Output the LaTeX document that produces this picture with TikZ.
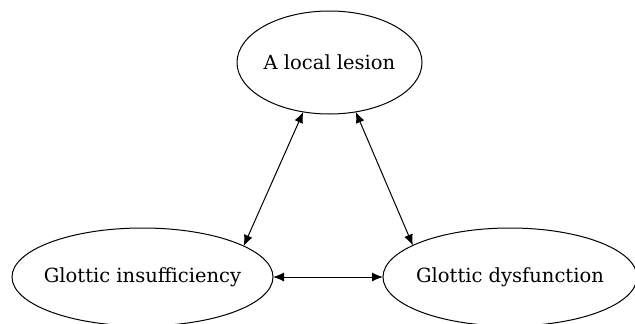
\documentclass[tikz,border=0pt]{standalone}
\usepackage{fontspec}
\setmainfont{DejaVu Serif}
\usepackage{tikz}
\usetikzlibrary{arrows.meta,shapes.geometric}

\begin{document}
\begin{tikzpicture}[x=1pt, y=-1pt,
	cause/.style={draw, ellipse, line width=1pt, inner xsep=-8pt, inner ysep=0pt, outer sep=0pt, font=\fontsize{19.5}{23}\selectfont},
	link/.style={line width=1pt, {Latex[length=11pt,width=9pt]}-{Latex[length=11pt,width=9pt]}}]
	\useasboundingbox (0,0) rectangle (635,324);
	\node[cause, minimum width=185pt, minimum height=103pt] (lesion) at (329.5,62.5) {A local lesion};
	\node[cause, minimum width=261pt, minimum height=98pt] (insuff) at (142.5,277) {Glottic insufficiency};
	\node[cause, minimum width=254pt, minimum height=98pt] (dysf) at (510,277) {Glottic dysfunction};
	\draw[link] (lesion.242) -- (insuff.17);
	\draw[link] (lesion.298) -- (dysf.162);
	\draw[link] (insuff.east) -- (dysf.west);
\end{tikzpicture}
\end{document}
